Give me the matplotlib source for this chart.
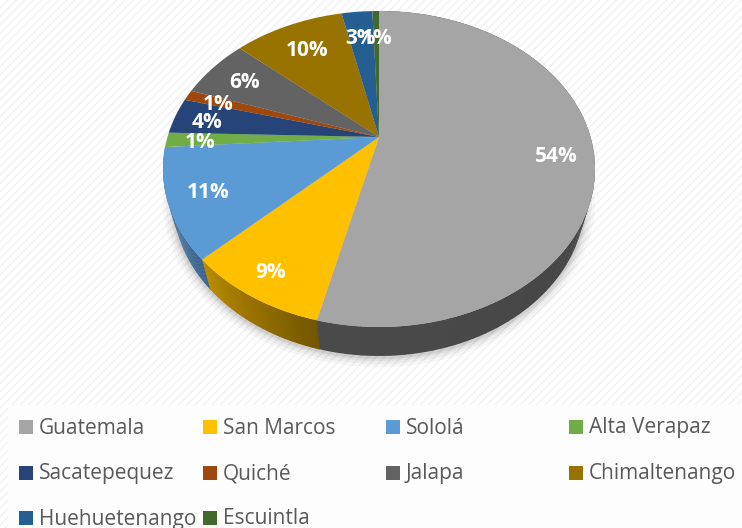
import numpy as np
import matplotlib
matplotlib.use('Agg')
import matplotlib.pyplot as plt
from matplotlib.patches import Rectangle, Ellipse

plt.rcParams['font.family'] = ['Open Sans', 'DejaVu Sans']

departments = ['Guatemala', 'San Marcos', 'Sololá', 'Alta Verapaz', 'Sacatepequez',
               'Quiché', 'Jalapa', 'Chimaltenango', 'Huehuetenango', 'Escuintla']
shares = [53.8, 9.0, 11.2, 1.5, 3.7, 1.1, 6.3, 10.0, 2.8, 0.6]
share_labels = ['54%', '9%', '11%', '1%', '4%', '1%', '6%', '10%', '3%', '1%']
colors = ['#a5a5a5', '#ffc000', '#5b9bd5', '#70ad47', '#264478',
          '#9e480e', '#636363', '#997300', '#255e91', '#43682b']
# side wall shades, from the clockwise start of the slice to its end
wall_colors = {0: ('#404040', '#4a4a4a'), 1: ('#745600', '#b98b00'), 2: ('#3a6590', '#4c7dae')}

label_xy = [(556, 156), (271, 272), (208, 193), (200, 142), (207, 122),
            (218, 105), (245, 82), (307, 50), (360, 38), (377, 38)]
legend_x = [19, 203, 386, 569]
legend_y = [428, 474, 519]

# perspective of the pie top, the centre sits above the middle of the ellipse
TILT = 0.2


def project(angle, cx, cy, a, b):
    u, v = np.sin(angle), np.cos(angle)
    d = 1 + TILT * v
    return cx + a * u * np.sqrt(1 - TILT**2) / d, cy - b * (v + TILT) / d


fig = plt.figure(figsize=(7.42, 5.28), dpi=100)
ax = fig.add_axes([0, 0, 1, 1])
ax.set_xlim(0, 742)
ax.set_ylim(528, 0)
ax.axis('off')

plt.rcParams['hatch.linewidth'] = 1.2
ax.add_patch(Rectangle((0, 0), 742, 528, facecolor='white', edgecolor='#f3f3f3', hatch='////', lw=0))
ax.add_patch(Rectangle((8, 405), 734, 123, facecolor='#fdfdfd', edgecolor='none'))

# soft shadow under the pie
for grow, alpha in zip([10, 7, 4, 2], [0.03, 0.04, 0.05, 0.07]):
    ax.add_patch(Ellipse((379, 201), 412 + grow * 2, 312 + grow * 2, color='black', alpha=alpha, lw=0))

edges = np.radians(np.cumsum([0] + shares) * 3.6)

# side wall for the front slices
for i, (c_start, c_end) in wall_colors.items():
    angles = np.linspace(edges[i], edges[i + 1], 60)
    c0 = np.array(matplotlib.colors.to_rgb(c_start))
    c1 = np.array(matplotlib.colors.to_rgb(c_end))
    for j in range(len(angles) - 1):
        seg = np.linspace(angles[j], angles[j + 1] + 0.005, 3)
        tx, ty = project(seg, 379, 169, 216, 158)
        bx, by = project(seg, 379, 200, 206, 156)
        t = j / (len(angles) - 2)
        ax.fill(np.r_[tx, bx[::-1]], np.r_[ty, by[::-1]], color=c0 + (c1 - c0) * t, lw=0)

# top of the pie
for i, color in enumerate(colors):
    angles = np.linspace(edges[i], edges[i + 1], 200)
    x, y = project(angles, 379, 169, 216, 158)
    ax.fill(np.r_[379, x], np.r_[137, y], color=color, lw=0)

for (x, y), label in zip(label_xy, share_labels):
    ax.text(x, y, label, color='white', fontsize=15, fontweight='bold', ha='center', va='center')

for i, name in enumerate(departments):
    col, row = i % 4, i // 4
    ax.add_patch(Rectangle((legend_x[col], legend_y[row] - 8), 14, 14, facecolor=colors[i], edgecolor='none'))
    ax.text(legend_x[col] + 20, legend_y[row], name, color='#595959', fontsize=15, va='center', ha='left')

fig.savefig('out.png', dpi=100)
